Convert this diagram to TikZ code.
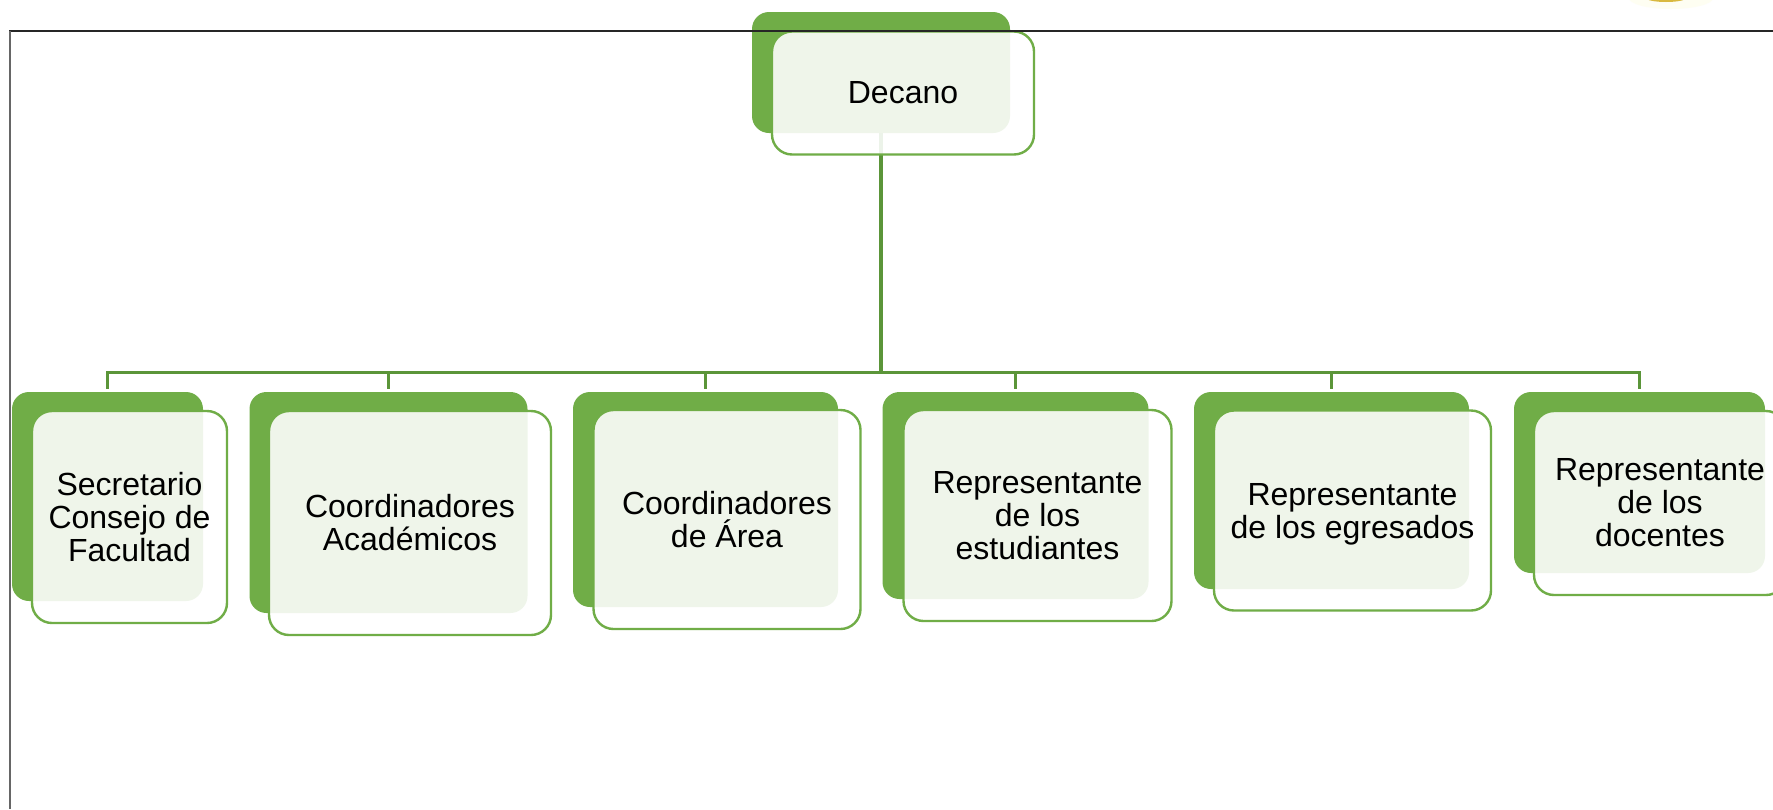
\documentclass[tikz,border=0pt]{standalone}
\usepackage{fontspec}
\setmainfont{Liberation Sans}
\definecolor{boxgreen}{HTML}{70AD47}
\definecolor{linkgreen}{HTML}{5B9539}
\definecolor{markgold}{HTML}{D9B93F}
\definecolor{markhalo}{HTML}{FEFEF2}
\tikzset{
  backbox/.style={rectangle,rounded corners=17pt,fill=boxgreen,inner sep=0pt,outer sep=0pt},
  frontbox/.style={rectangle,rounded corners=20pt,draw=boxgreen,line width=2.4pt,fill=white,fill opacity=.89,text opacity=1,draw opacity=1,inner sep=0pt,outer sep=0pt,align=center,text=black,font=\fontsize{32}{33}\selectfont},
  trunk/.style={draw=linkgreen,line width=3.4pt},
  branch/.style={draw=linkgreen,line width=3pt,shorten >=3pt},
  framing/.style={line width=1.4pt}
}
\begin{document}
\begin{tikzpicture}[x=1pt,y=-1pt]
\useasboundingbox (0,0) rectangle (1773,809);
\clip (0,0) rectangle (1773,809);
\fill[white] (0,0) rectangle (1773,809);
% faint mark at the top edge
\fill[markhalo] (1671,-2) ellipse (42pt and 11pt);
\fill[markgold] (1666,-2) ellipse (20pt and 4pt);
% back plates
\node[backbox,minimum width=258pt,minimum height=121pt] (b0) at (881,72.5) {};
\node[backbox,minimum width=191pt,minimum height=209pt] (b1) at (107.5,496.5) {};
\node[backbox,minimum width=278pt,minimum height=221pt] (b2) at (388.5,502.5) {};
\node[backbox,minimum width=265pt,minimum height=215pt] (b3) at (705.5,499.5) {};
\node[backbox,minimum width=266pt,minimum height=207pt] (b4) at (1015.5,495.5) {};
\node[backbox,minimum width=275pt,minimum height=197pt] (b5) at (1331.5,490.5) {};
\node[backbox,minimum width=251pt,minimum height=181pt] (b6) at (1639.5,482.5) {};
% connectors
\coordinate (bus) at (881,372.5);
\draw[trunk] (b0.south) -- (bus);
\draw[branch] (bus) -| (b1.north);
\draw[branch] (bus) -| (b2.north);
\draw[branch] (bus) -| (b3.north);
\draw[branch] (bus) -| (b4.north);
\draw[branch] (bus) -| (b5.north);
\draw[branch] (bus) -| (b6.north);
% front plates
\node[frontbox,minimum width=262pt,minimum height=123pt] (f0) at (903,93) {Decano};
\node[frontbox,minimum width=195pt,minimum height=212pt] (f1) at (129.5,517) {Secretario\\Consejo de\\Facultad};
\node[frontbox,minimum width=282pt,minimum height=224pt] (f2) at (410,523) {Coordinadores\\Académicos};
\node[frontbox,minimum width=267pt,minimum height=219pt] (f3) at (727,519.5) {Coordinadores\\de Área};
\node[frontbox,minimum width=268pt,minimum height=211pt] (f4) at (1037.5,515.5) {Representante\\de los\\estudiantes};
\node[frontbox,minimum width=277pt,minimum height=200pt] (f5) at (1352.5,510.5) {\rule{0pt}{30pt}Representante\\de los egresados};
\node[frontbox,minimum width=252pt,minimum height=184pt] (f6) at (1660,503) {Representante\\de los\\docentes};
% outer frame
\draw[framing,black!85] (9.3,31) -- (1773,31);
\draw[framing,black!60] (10,31) -- (10,809);
\end{tikzpicture}
\end{document}
